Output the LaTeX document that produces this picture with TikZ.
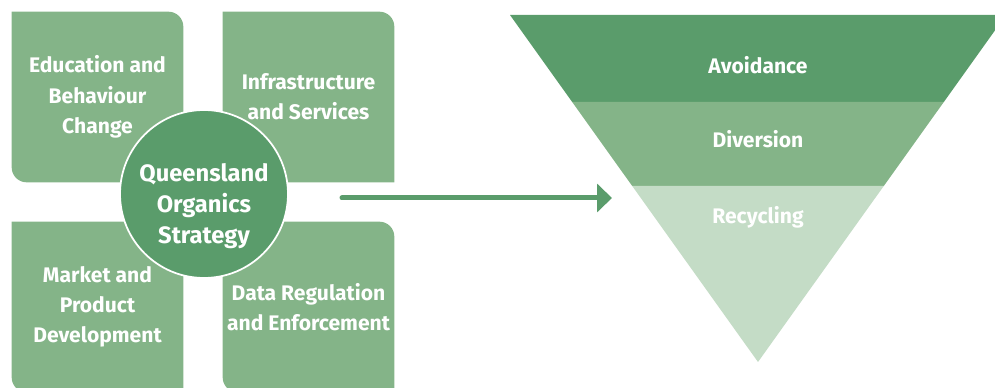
\documentclass[tikz,border=0pt]{standalone}
\usepackage{fontspec}
\setmainfont{Fira Sans}
\usetikzlibrary{positioning}
\usetikzlibrary{calc}
\usetikzlibrary{arrows.meta,backgrounds}

\definecolor{leafgreen}{HTML}{84B488}
\definecolor{darkgreen}{HTML}{5A9C6B}
\definecolor{palegreen}{HTML}{C4DCC6}

% leaf shaped box behind a node: round top right and bottom left
\newcommand{\leafr}{0.3cm}
\newcommand{\leafbox}[1]{%
  \fill[leafgreen] (#1.north west) -- ([xshift=-\leafr]#1.north east)
    arc[start angle=90,end angle=0,radius=\leafr] -- (#1.south east)
    -- ([xshift=\leafr]#1.south west)
    arc[start angle=270,end angle=180,radius=\leafr] -- cycle;}

\begin{document}
\begin{tikzpicture}[x=0.02cm,y=-0.02cm]
\tikzstyle{area} =[rectangle,minimum width=3.42cm,minimum height=3.4cm,inner sep=0pt,align=center,text=white,font=\bfseries\fontsize{12}{17.2}\selectfont]
\tikzstyle{hub} =[circle,fill=darkgreen,draw=white,line width=1pt,minimum size=3.36cm,inner sep=0pt]
\tikzstyle{hubtext} =[align=center,text=white,font=\bfseries\fontsize{13.5}{17.6}\selectfont]
\tikzstyle{level} =[text=white,font=\bfseries\fontsize{12}{14}\selectfont]
\useasboundingbox (0,0) rectangle (995,388);

\node[area](edu) at (97.5,97){Education and\\Behaviour\\Change};
\node[area](infra) at (308.5,97){Infrastructure\\and Services};
\node[area](market) at (97.5,307){Market and\\Product\\Development};
\node[area](data) at (308.5,307){Data Regulation\\and Enforcement};

\begin{scope}[on background layer]
\leafbox{edu}
\leafbox{infra}
\leafbox{market}
\leafbox{data}
\end{scope}

\node[hub](hub) at (204,194){};
\node[hubtext](hublabel) at (204,206){Queensland\\Organics\\Strategy};

% hierarchy triangle
\coordinate (tl) at (510,15);
\coordinate (tr) at (1006,15);
\coordinate (apex) at (758,362);
\coordinate (l1) at ($(tl)!0.2507!(apex)$);
\coordinate (r1) at ($(tr)!0.2507!(apex)$);
\coordinate (l2) at ($(tl)!0.4928!(apex)$);
\coordinate (r2) at ($(tr)!0.4928!(apex)$);
\fill[darkgreen] (tl)--(tr)--(r1)--(l1)--cycle;
\fill[leafgreen] (l1)--(r1)--(r2)--(l2)--cycle;
\fill[palegreen] (l2)--(r2)--(apex)--cycle;

\node[level](avoid) at (758,65){Avoidance};
\node[level](divert) at (758,139){Diversion};
\node[level](recycle) at (758,217){Recycling};

\coordinate (from) at (342,198);
\coordinate (to) at (612,198);
\draw[darkgreen,line width=0.1cm,line cap=round,-{Triangle[length=0.3cm,width=0.56cm]}] (from)--(to);
\end{tikzpicture}
\end{document}
